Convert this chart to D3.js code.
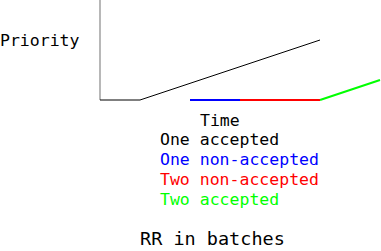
<!DOCTYPE html>
<html>
<head>
<meta charset="utf-8">
<script src="https://cdnjs.cloudflare.com/ajax/libs/d3/7.8.5/d3.min.js"></script>
<style>
  body { margin: 0; background: #fff; }
  text { font-family: "DejaVu Sans Mono", monospace; }
</style>
</head>
<body>
<script>
// time / priority points of each run
var oneAccepted = [[0, 0], [40, 0], [220, 60]];
var oneNonAccepted = [[90, 0], [140, 0]];
var twoNonAccepted = [[140, 0], [220, 0]];
var twoAccepted = [[220, 0], [280, 20]];
var seriesNames = ["One accepted", "One non-accepted", "Two non-accepted", "Two accepted"];
var seriesColours = ["#000000", "#0000ff", "#ff0000", "#00ff00"];
var yLabel = "Priority";
var xLabel = "Time";
var title = "RR in batches";

var width = 381, height = 251;
var svg = d3.select("body").append("svg").attr("width", width).attr("height", height);

var x = d3.scaleLinear().domain([0, 280]).range([100, 380]);
var y = d3.scaleLinear().domain([0, 100]).range([100, 0]);

// vertical axis
svg.append("line")
    .attr("x1", x(0)).attr("x2", x(0))
    .attr("y1", y(0)).attr("y2", y(100))
    .attr("stroke", "#888").attr("stroke-width", 1.2);

var line = d3.line().x(function(d) { return x(d[0]); }).y(function(d) { return y(d[1]); });
var series = [oneAccepted, oneNonAccepted, twoNonAccepted, twoAccepted];
var widths = [1, 2, 2, 2];
svg.selectAll(".run").data(series).enter().append("path")
    .attr("class", "run")
    .attr("d", line)
    .attr("fill", "none")
    .attr("stroke", function(d, i) { return seriesColours[i]; })
    .attr("stroke-width", function(d, i) { return widths[i]; });

svg.append("text").attr("x", 0).attr("y", 46).attr("font-size", 16.5).text(yLabel);
svg.append("text").attr("x", 200).attr("y", 126).attr("font-size", 16.5).text(xLabel);

svg.selectAll(".legend").data(seriesNames).enter().append("text")
    .attr("class", "legend")
    .attr("x", 160)
    .attr("y", function(d, i) { return 145 + i * 20; })
    .attr("font-size", 16.5)
    .attr("fill", function(d, i) { return seriesColours[i]; })
    .text(function(d) { return d; });

svg.append("text").attr("x", 140).attr("y", 245).attr("font-size", 18.5).text(title);
</script>
</body>
</html>
